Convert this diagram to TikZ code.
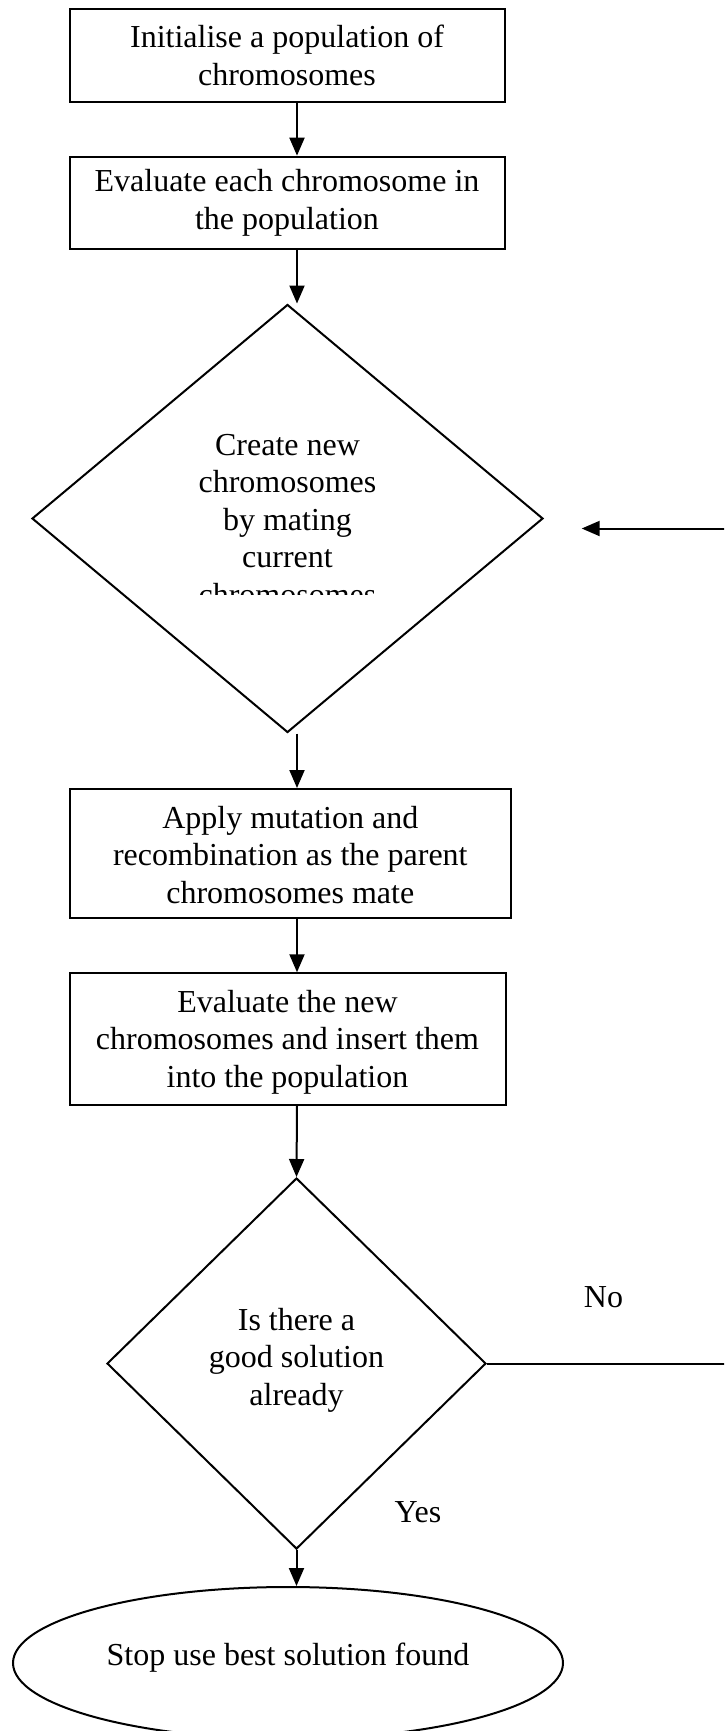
\documentclass[tikz,border=0pt]{standalone}
\usepackage{fontspec}
\setmainfont{Liberation Serif}
\usetikzlibrary{shapes.geometric,arrows.meta}

\tikzset{
  txt/.style={font=\fontsize{32}{37.5}\selectfont, align=center, inner sep=0pt},
  stepbox/.style={draw, rectangle, line width=2pt, inner sep=0pt},
  decision/.style={draw, diamond, line width=2pt, inner sep=0pt},
  terminal/.style={draw, ellipse, line width=2pt, inner sep=0pt},
  arr/.style={line width=2pt, -{Triangle[width=15pt,length=18pt]}},
  link/.style={line width=2pt}
}

\begin{document}
\begin{tikzpicture}[x=1pt, y=-1pt]
\useasboundingbox (0,0) rectangle (724,1731);
\clip (0,0) rectangle (724,1731);

% process boxes
\node[stepbox, minimum width=435pt, minimum height=92.7pt] (init) at (287,55.2) {};
\node[txt] (initT) at (287,55.2) {Initialise a population of\\chromosomes};

\node[stepbox, minimum width=435pt, minimum height=92.7pt] (eval) at (287,203) {};
\node[txt] (evalT) at (287,203) {Evaluate each chromosome in\\the population};

% mating decision, its text box cut off at the bottom
\node[decision, minimum width=511pt, minimum height=428pt] (mate) at (287.5,518.5) {};
\begin{scope}
  \clip (100,380) rectangle (480,594);
  \node[txt] (mateT) at (287.5,520) {Create new\\chromosomes\\by mating\\current\\chromosomes};
\end{scope}

\node[stepbox, minimum width=441.5pt, minimum height=129pt] (mut) at (290.3,853.5) {};
\node[txt] (mutT) at (290.3,855) {Apply mutation and\\recombination as the parent\\chromosomes mate};

\node[stepbox, minimum width=436pt, minimum height=131.5pt] (ins) at (287.5,1039) {};
\node[txt] (insT) at (287.5,1042) {Evaluate the new\\chromosomes and insert them\\into the population};

% termination test
\node[decision, minimum width=379pt, minimum height=371pt] (good) at (296.5,1363.5) {};
\node[txt] (goodT) at (296.5,1360) {Is there a\\good solution\\already};

\node[terminal, minimum width=550pt, minimum height=152pt] (stop) at (288,1663) {};
\node[txt] (stopT) at (288,1658) {Stop use best solution found};

% branch labels
\node[txt] (no) at (603.5,1297) {No};
\node[txt] (yes) at (418,1512) {Yes};

% main flow spine
\coordinate (spine) at (297,0);
\coordinate (rail) at (740,0);
\coordinate (back) at (581.7,528.5);

\draw[arr] (init.south -| spine) -- (eval.north -| spine);
\draw[arr] (eval.south -| spine) -- (mate.north -| spine);
\draw[arr] (mate.south -| spine) -- (mut.north -| spine);
\draw[arr] (mut.south -| spine) -- (ins.north -| spine);
\draw[arr] (ins.south -| spine) -- (good.north);
\draw[arr] (good.south) -- (stop.north -| good.south);

% loop back on "No"
\draw[arr] (good.east) -- (good.east -| rail) |- (back);
\end{tikzpicture}
\end{document}
